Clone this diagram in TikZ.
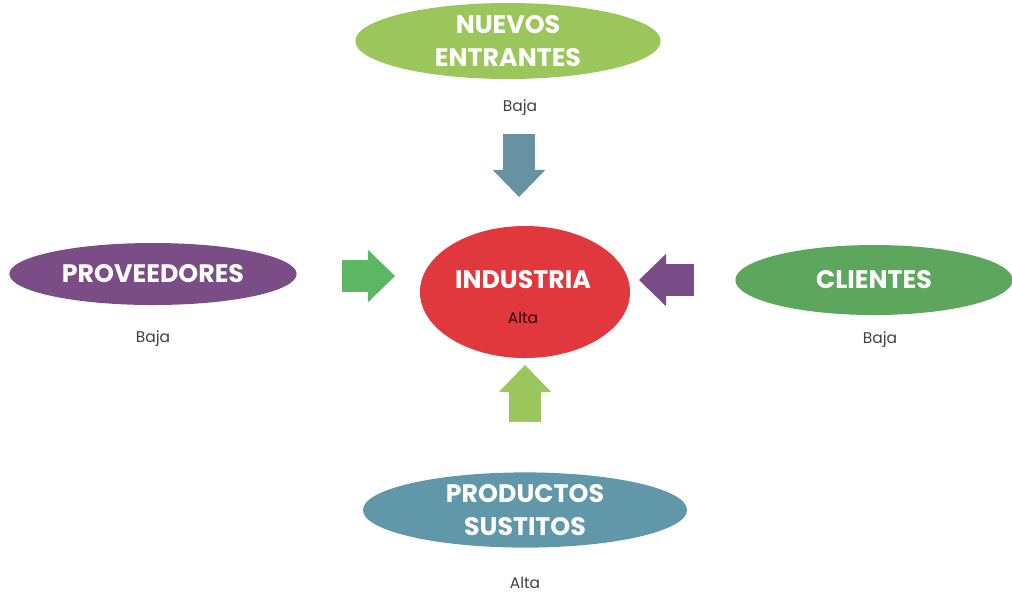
\documentclass[tikz,border=0pt]{standalone}
\usepackage{fontspec}
\setmainfont{Poppins}
\usetikzlibrary{arrows.meta,shapes.geometric}

\definecolor{verdeclaro}{HTML}{9BC65B}
\definecolor{verde}{HTML}{5DB663}
\definecolor{verdecli}{HTML}{5CA65E}
\definecolor{morado}{HTML}{7B4D87}
\definecolor{rojo}{HTML}{E1383D}
\definecolor{azulgris}{HTML}{6891A3}
\definecolor{azulprod}{HTML}{6198A9}

\begin{document}
\begin{tikzpicture}[x=0.025cm,y=-0.025cm,inner sep=0pt,outer sep=0pt,
fuerza/.style={ellipse,fill=#1,text=white,align=center,font=\bfseries\fontsize{18}{23.5}\selectfont},
nivel/.style={font=\fontsize{11}{13}\selectfont,text=black!75},
flecha/.style={draw=#1,line width=0.8cm,-{Triangle[width=1.32cm,length=0.68cm,line width=0pt,fill=#1]}}]

\useasboundingbox (0,0) rectangle (1012,595);

\node[fuerza=rojo,minimum width=5.25cm,minimum height=3.3cm] (ind) at (525,292) {};
\node[text=white,font=\bfseries\fontsize{18}{22}\selectfont] (indt) at (523,280) {INDUSTRIA};
\node[nivel,text=black!80!red] (inda) at (523,318) {Alta};

\node[fuerza=verdeclaro,minimum width=7.63cm,minimum height=1.9cm] (nue) at (508,41) {NUEVOS\\ENTRANTES};
\node[nivel] (nueb) at (520,108) {Baja};

\node[fuerza=morado,minimum width=7.18cm,minimum height=1.55cm] (prov) at (153,274) {PROVEEDORES};
\node[nivel] (provb) at (153,339) {Baja};

\node[fuerza=verdecli,minimum width=6.93cm,minimum height=1.75cm] (cli) at (874,280) {CLIENTES};
\node[nivel] (clib) at (880,340) {Baja};

\node[fuerza=azulprod,minimum width=8.1cm,minimum height=1.88cm] (prod) at (525,510) {PRODUCTOS\\SUSTITOS};
\node[nivel] (prodb) at (525,583) {Alta};

% flechas hacia la industria
\coordinate (n0) at (519,134); \coordinate (n1) at (519,197);
\coordinate (p0) at (342,276); \coordinate (p1) at (395,276);
\coordinate (c0) at (694,280); \coordinate (c1) at (639,280);
\coordinate (s0) at (525,422); \coordinate (s1) at (525,365);

\draw[flecha=azulgris] (n0) -- (n1);
\draw[flecha=verde] (p0) -- (p1);
\draw[flecha=morado] (c0) -- (c1);
\draw[flecha=verdeclaro] (s0) -- (s1);
\end{tikzpicture}
\end{document}
